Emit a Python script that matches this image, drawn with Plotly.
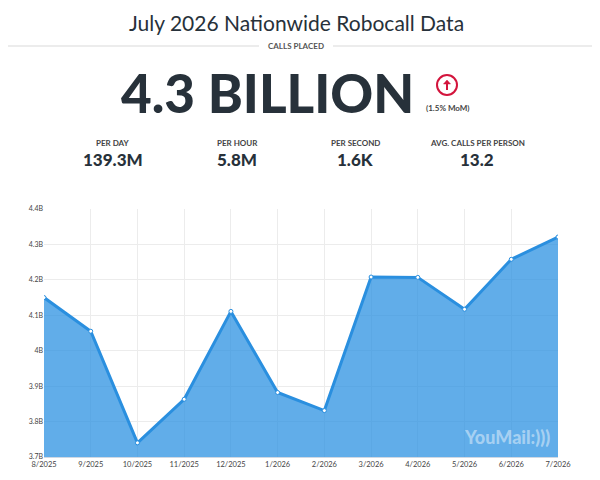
"""Monthly nationwide robocall volume, YouMail style summary card."""

import plotly.graph_objects as go

months = ["8/2025", "9/2025", "10/2025", "11/2025", "12/2025", "1/2026",
          "2/2026", "3/2026", "4/2026", "5/2026", "6/2026", "7/2026"]
calls = [4.150e9, 4.055e9, 3.740e9, 3.863e9, 4.111e9, 3.882e9,
         3.831e9, 4.208e9, 4.207e9, 4.117e9, 4.258e9, 4.321e9]

y_ticks = [3.7e9, 3.8e9, 3.9e9, 4.0e9, 4.1e9, 4.2e9, 4.3e9, 4.4e9]
y_labels = ["3.7B", "3.8B", "3.9B", "4B", "4.1B", "4.2B", "4.3B", "4.4B"]

stat_names = ["PER DAY", "PER HOUR", "PER SECOND", "AVG. CALLS PER PERSON"]
stat_values = ["139.3M", "5.8M", "1.6K", "13.2"]
stat_x = [113, 237, 355, 477]

headline = "4.3 BILLION"
change = "(1.5% MoM)"

W, H = 600, 480
OFF = 8  # page body margin shifts the figure by this much
L, R, T, B = 44 - OFF, 42 + OFF, 209 - OFF, 23 + OFF
DARK = "#27313a"
RED = "#d3143c"


def px(x):
    # window pixel -> paper fraction
    return (x - OFF - L) / (W - L - R)


def py(y):
    return (H - B - (y - OFF)) / (H - T - B)


fig = go.Figure()
fig.add_trace(go.Scatter(
    x=list(range(len(months))),
    y=calls,
    mode="lines+markers",
    fill="tozeroy",
    fillcolor="rgba(36,142,224,0.72)",
    line=dict(color="#2a8fdf", width=3),
    marker=dict(size=4, color="white", line=dict(color="#2a8fdf", width=1)),
    hoverinfo="skip",
))

annotations = [
    dict(x=px(296), y=py(OFF), text="July 2026 Nationwide Robocall Data", yanchor="top",
         font=dict(family="Lato", size=21, color=DARK, weight=400)),
    dict(x=px(296), y=py(46), text="CALLS PLACED",
         font=dict(family="Lato", size=8, color="#555", weight=700)),
    dict(x=px(267), y=py(92), text=headline,
         font=dict(family="Lato", size=53, color=DARK, weight=900)),
    dict(x=px(448), y=py(108), text=change,
         font=dict(family="Lato", size=8, color="#444", weight=700)),
    dict(x=px(507), y=py(437), text="YouMail:)))",
         font=dict(family="Lato", size=18, color="rgba(255,255,255,0.45)", weight=900)),
]
for name, value, sx in zip(stat_names, stat_values, stat_x):
    annotations.append(dict(x=px(sx), y=py(143), text=name,
                            font=dict(family="Lato", size=8, color="#444", weight=700)))
    annotations.append(dict(x=px(sx), y=py(159), text=value,
                            font=dict(family="Lato", size=17, color=DARK, weight=900)))
for a in annotations:
    a.setdefault("yanchor", "middle")
    a.update(xref="paper", yref="paper", showarrow=False, xanchor="center")

shapes = [
    dict(type="line", xref="paper", yref="paper", x0=px(0), x1=px(259), y0=py(46), y1=py(46),
         line=dict(color="#e6e6e6", width=1.5)),
    dict(type="line", xref="paper", yref="paper", x0=px(333), x1=px(608), y0=py(46), y1=py(46),
         line=dict(color="#e6e6e6", width=1.5)),
    dict(type="circle", xref="paper", yref="paper", x0=px(437), x1=px(457), y0=py(75), y1=py(95),
         line=dict(color=RED, width=2)),
    dict(type="line", xref="paper", yref="paper", x0=px(447), x1=px(447), y0=py(82), y1=py(90),
         line=dict(color=RED, width=2)),
    dict(type="path", xref="paper", yref="paper", fillcolor=RED, line=dict(color=RED, width=0.5),
         path=f"M {px(443.5)} {py(84)} L {px(447)} {py(80)} L {px(450.5)} {py(84)} Z"),
]

fig.update_layout(
    width=W, height=H, autosize=False,
    margin=dict(l=L, r=R, t=T, b=B),
    paper_bgcolor="white", plot_bgcolor="white",
    showlegend=False,
    annotations=annotations,
    shapes=shapes,
    font=dict(family="Lato", color="#444"),
    xaxis=dict(
        range=[0, len(months) - 1],
        tickvals=list(range(len(months))), ticktext=months,
        showgrid=True, gridcolor="#ececec", gridwidth=1,
        showline=True, linecolor="#cfd8e3", linewidth=1,
        zeroline=False, ticks="", tickfont=dict(size=7.5, color="#444"),
        fixedrange=True,
    ),
    yaxis=dict(
        range=[3.7e9, 4.4e9],
        tickvals=y_ticks, ticktext=y_labels,
        showgrid=True, gridcolor="#ececec", gridwidth=1,
        showline=False, zeroline=False, ticks="",
        tickfont=dict(size=7, color="#444"), fixedrange=True,
    ),
)

fig.write_html("out.html")
